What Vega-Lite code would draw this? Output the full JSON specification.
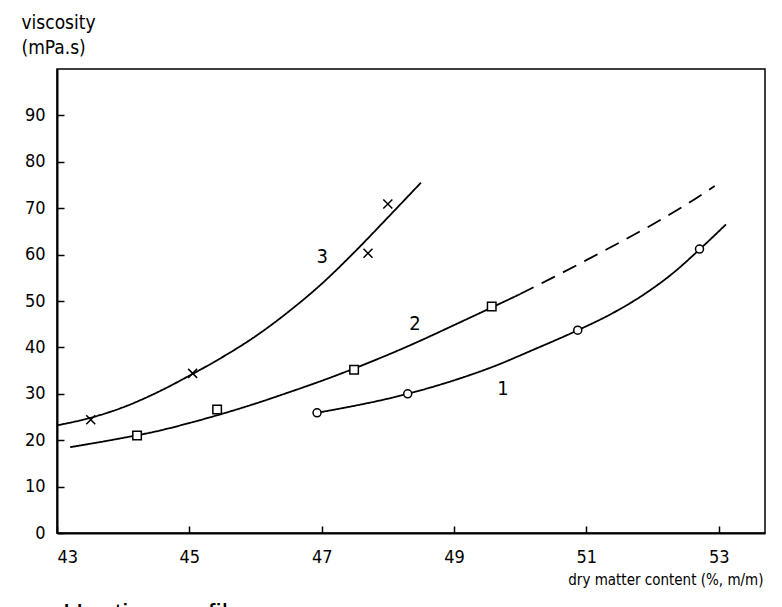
{
  "$schema": "https://vega.github.io/schema/vega-lite/v6.json",
  "width": 708,
  "height": 464,
  "autosize": "none",
  "padding": {"left": 57, "top": 69, "right": 17, "bottom": 74},
  "background": "white",
  "title": {
    "text": "Heating profiles",
    "orient": "bottom",
    "anchor": "start",
    "frame": "group",
    "font": "Liberation Sans",
    "fontSize": 28,
    "fontWeight": "normal",
    "color": "black",
    "baseline": "top",
    "offset": 14,
    "dx": 6
  },
  "config": {
    "view": {"stroke": "black", "strokeWidth": 1.5},
    "axis": {
      "grid": false,
      "domainColor": "black",
      "domainWidth": 2,
      "tickColor": "black",
      "tickWidth": 1.5,
      "tickSize": -7,
      "labelFont": "'DejaVu Sans Condensed', 'DejaVu Sans', sans-serif",
      "labelFontSize": 18,
      "labelColor": "black",
      "titleFont": "'DejaVu Sans Condensed', 'DejaVu Sans', sans-serif",
      "titleFontWeight": "normal",
      "titleColor": "black"
    }
  },
  "datasets": {
    "curves": [
      {"curve": "3", "style": "solid", "x": 43.0, "y": 23.2},
      {"curve": "3", "style": "solid", "x": 43.5, "y": 24.8},
      {"curve": "3", "style": "solid", "x": 44.0, "y": 27.1},
      {"curve": "3", "style": "solid", "x": 44.5, "y": 30.2},
      {"curve": "3", "style": "solid", "x": 45.0, "y": 33.9},
      {"curve": "3", "style": "solid", "x": 45.5, "y": 37.9},
      {"curve": "3", "style": "solid", "x": 46.0, "y": 42.4},
      {"curve": "3", "style": "solid", "x": 46.5, "y": 47.7},
      {"curve": "3", "style": "solid", "x": 47.0, "y": 53.7},
      {"curve": "3", "style": "solid", "x": 47.5, "y": 60.6},
      {"curve": "3", "style": "solid", "x": 48.0, "y": 68.0},
      {"curve": "3", "style": "solid", "x": 48.5, "y": 75.5},
      {"curve": "2", "style": "solid", "x": 43.2, "y": 18.5},
      {"curve": "2", "style": "solid", "x": 44.0, "y": 20.5},
      {"curve": "2", "style": "solid", "x": 44.5, "y": 21.9},
      {"curve": "2", "style": "solid", "x": 45.0, "y": 23.7},
      {"curve": "2", "style": "solid", "x": 45.5, "y": 25.7},
      {"curve": "2", "style": "solid", "x": 46.0, "y": 27.9},
      {"curve": "2", "style": "solid", "x": 46.5, "y": 30.3},
      {"curve": "2", "style": "solid", "x": 47.0, "y": 32.8},
      {"curve": "2", "style": "solid", "x": 47.5, "y": 35.5},
      {"curve": "2", "style": "solid", "x": 48.0, "y": 38.4},
      {"curve": "2", "style": "solid", "x": 48.5, "y": 41.5},
      {"curve": "2", "style": "solid", "x": 49.0, "y": 44.8},
      {"curve": "2", "style": "solid", "x": 49.57, "y": 48.6},
      {"curve": "2", "style": "solid", "x": 50.0, "y": 51.5},
      {"curve": "2", "style": "dashed", "x": 50.0, "y": 51.5},
      {"curve": "2", "style": "dashed", "x": 50.5, "y": 55.1},
      {"curve": "2", "style": "dashed", "x": 51.0, "y": 58.8},
      {"curve": "2", "style": "dashed", "x": 51.5, "y": 62.6},
      {"curve": "2", "style": "dashed", "x": 52.0, "y": 66.5},
      {"curve": "2", "style": "dashed", "x": 52.5, "y": 70.7},
      {"curve": "2", "style": "dashed", "x": 52.94, "y": 74.8},
      {"curve": "1", "style": "solid", "x": 46.93, "y": 25.9},
      {"curve": "1", "style": "solid", "x": 48.3, "y": 30.0},
      {"curve": "1", "style": "solid", "x": 49.0, "y": 32.9},
      {"curve": "1", "style": "solid", "x": 49.6, "y": 35.9},
      {"curve": "1", "style": "solid", "x": 50.2, "y": 39.5},
      {"curve": "1", "style": "solid", "x": 50.87, "y": 43.7},
      {"curve": "1", "style": "solid", "x": 51.4, "y": 47.4},
      {"curve": "1", "style": "solid", "x": 51.9, "y": 51.7},
      {"curve": "1", "style": "solid", "x": 52.3, "y": 55.9},
      {"curve": "1", "style": "solid", "x": 52.71, "y": 61.1},
      {"curve": "1", "style": "solid", "x": 53.11, "y": 66.5}
    ],
    "points": [
      {"curve": "3", "x": 43.51, "y": 24.4},
      {"curve": "3", "x": 45.05, "y": 34.4},
      {"curve": "3", "x": 47.7, "y": 60.3},
      {"curve": "3", "x": 48.0, "y": 70.9},
      {"curve": "2", "x": 44.21, "y": 21.0},
      {"curve": "2", "x": 45.42, "y": 26.6},
      {"curve": "2", "x": 47.49, "y": 35.2},
      {"curve": "2", "x": 49.57, "y": 48.8},
      {"curve": "1", "x": 46.93, "y": 25.9},
      {"curve": "1", "x": 48.3, "y": 30.0},
      {"curve": "1", "x": 50.87, "y": 43.7},
      {"curve": "1", "x": 52.71, "y": 61.2}
    ],
    "labels": [
      {"label": "3", "x": 47.01, "y": 59.4},
      {"label": "2", "x": 48.41, "y": 45.1},
      {"label": "1", "x": 49.74, "y": 31.1}
    ]
  },
  "layer": [
    {
      "data": {"name": "curves"},
      "mark": {"type": "line", "interpolate": "monotone", "color": "black", "strokeWidth": 1.8},
      "encoding": {
        "x": {
          "field": "x", "type": "quantitative",
          "scale": {"domain": [43, 53.7], "nice": false, "zero": false},
          "axis": {
            "values": [43, 45, 47, 49, 51, 53],
            "format": "d",
            "labelPadding": 22,
            "title": "dry matter content (%, m/m)",
            "titleFontSize": 15,
            "titleAnchor": "end",
            "titleAlign": "right",
            "titleBaseline": "alphabetic",
            "titleX": 706,
            "titleY": 51
          }
        },
        "y": {
          "field": "y", "type": "quantitative",
          "scale": {"domain": [0, 100], "nice": false},
          "axis": {
            "values": [0, 10, 20, 30, 40, 50, 60, 70, 80, 90],
            "format": "d",
            "labelPadding": 19,
            "title": ["viscosity", "(mPa.s)"],
            "titleFontSize": 19,
            "titleAngle": 0,
            "titleAlign": "left",
            "titleBaseline": "alphabetic",
            "titleLineHeight": 25,
            "titleX": -36,
            "titleY": -41
          }
        },
        "detail": {"field": "curve"},
        "strokeDash": {
          "field": "style", "type": "nominal",
          "scale": {"domain": ["solid", "dashed"], "range": [[1, 0], [15, 9]]},
          "legend": null
        }
      }
    },
    {
      "data": {"name": "points"},
      "mark": {"type": "point", "filled": true, "fill": "white", "stroke": "black", "strokeWidth": 1.5, "opacity": 1},
      "encoding": {
        "x": {"field": "x", "type": "quantitative"},
        "y": {"field": "y", "type": "quantitative"},
        "shape": {
          "field": "curve", "type": "nominal",
          "scale": {"domain": ["1", "2", "3"], "range": ["circle", "square", "M-1,-1L1,1M1,-1L-1,1"]},
          "legend": null
        },
        "size": {
          "field": "curve", "type": "nominal",
          "scale": {"domain": ["1", "2", "3"], "range": [64, 81, 100]},
          "legend": null
        }
      }
    },
    {
      "data": {"name": "labels"},
      "mark": {"type": "text", "font": "'DejaVu Sans Condensed', 'DejaVu Sans', sans-serif", "fontSize": 20, "color": "black", "align": "center", "baseline": "middle"},
      "encoding": {
        "x": {"field": "x", "type": "quantitative"},
        "y": {"field": "y", "type": "quantitative"},
        "text": {"field": "label"}
      }
    }
  ]
}
